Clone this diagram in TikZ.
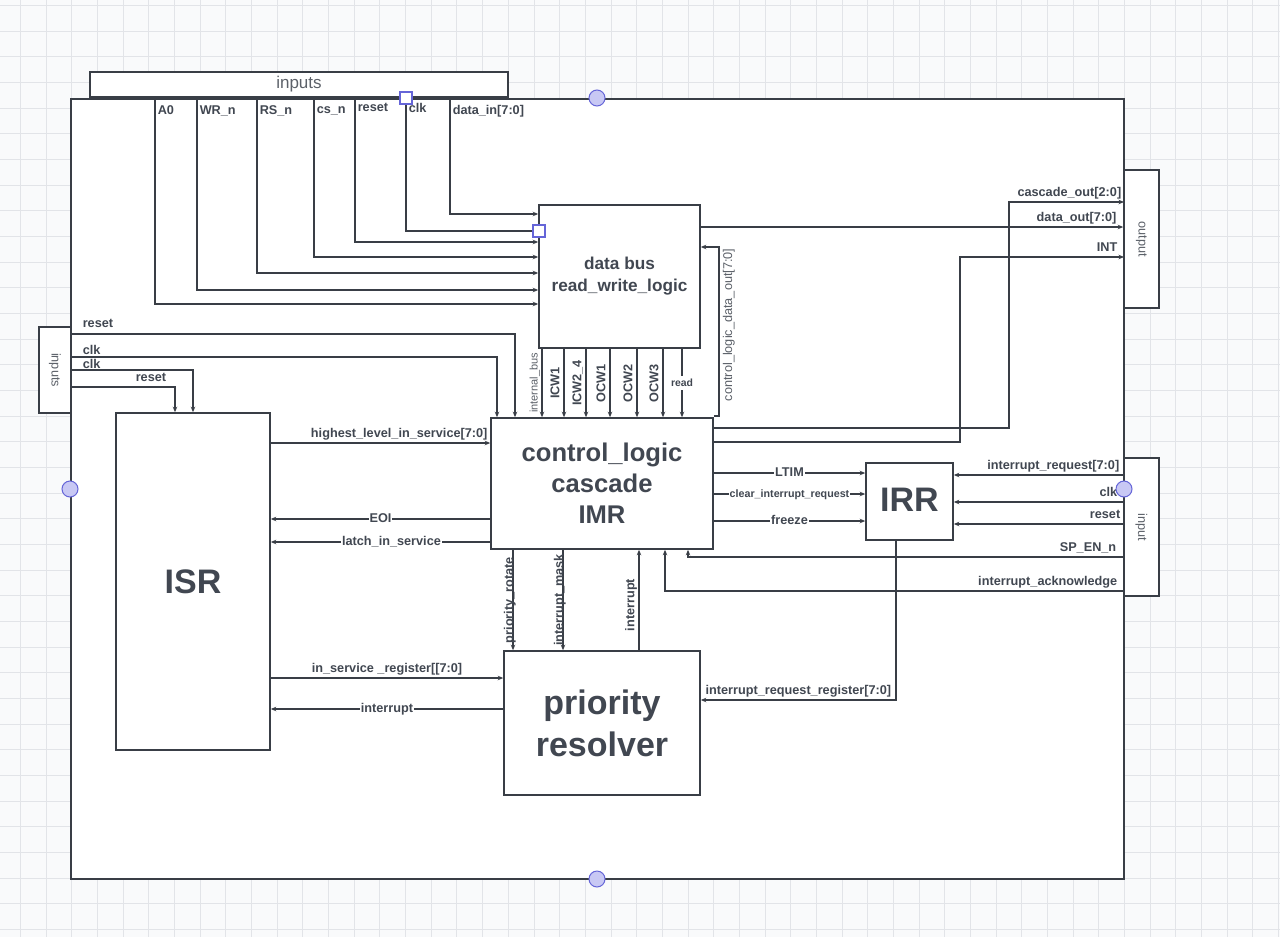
\documentclass[tikz,border=0pt]{standalone}
\usepackage{fontspec}
\setmainfont{Liberation Sans}
\usetikzlibrary{arrows.meta,positioning,calc}

\definecolor{ink}{HTML}{393E46}
\definecolor{txt}{HTML}{414751}
\definecolor{soft}{HTML}{5C6169}
\definecolor{gridc}{HTML}{E2E4E8}
\definecolor{paper}{HTML}{F9FAFB}
\definecolor{pinfill}{HTML}{C8C8F4}
\definecolor{pinline}{HTML}{6565D8}

\begin{document}
\begin{tikzpicture}[x=1pt,y=-1pt,>={Stealth[length=5.5pt,width=4.5pt]},
  block/.style={draw=ink,line width=1.6pt,fill=white,text=txt,align=center,inner sep=0pt},
  side box/.style={draw=ink,line width=1.6pt,fill=white,text=soft,inner sep=0pt,font=\fontsize{12.7}{15}\selectfont},
  wire/.style={draw=ink,line width=1.5pt,->},
  plain wire/.style={draw=ink,line width=1.5pt},
  sig/.style={text=txt,font=\fontsize{12.7}{15}\selectfont\bfseries,inner sep=2pt,text height=9.2pt,text depth=2.8pt},
  on wire/.style={sig,fill=white,inner sep=1pt},
  dot pin/.style={circle,draw=pinline,fill=pinfill,line width=1pt,minimum size=16pt,inner sep=0pt},
  square pin/.style={draw=pinline,fill=white,line width=1.2pt,minimum size=12pt,inner sep=0pt}]

% sheet with grid
\useasboundingbox (0,0) rectangle (1280,937);
\fill[paper] (0,0) rectangle (1280,937);
\foreach \i in {0,...,49} \draw[gridc,line width=0.8pt] (20.5+25.67*\i,0) -- (20.5+25.67*\i,937);
\foreach \j in {0,...,36} \draw[gridc,line width=0.8pt] (0,5.3+25.67*\j) -- (1280,5.3+25.67*\j);

% frame and port boxes
\node[block, minimum width=1053pt, minimum height=780pt] (chip) at (597.5,489) {};
\node[side box, minimum width=418pt, minimum height=25pt, font=\fontsize{17}{20}\selectfont] (topin) at (299,84.5) {inputs};
\node[side box, rotate=-90, minimum width=86pt, minimum height=32pt] (leftin) at (55,370) {inputs};
\node[side box, rotate=-90, minimum width=138pt, minimum height=35pt] (outbox) at (1141.5,239) {output};
\node[side box, rotate=-90, minimum width=138pt, minimum height=35pt] (inbox) at (1141.5,527) {input};

% blocks
\node[block, minimum width=161pt, minimum height=143pt, font=\fontsize{17.2}{22}\selectfont\bfseries] (rwl) at (619.5,276.5) {data bus\\read\_write\_logic};
\node[block, minimum width=222pt, minimum height=131pt, font=\fontsize{25.6}{31}\selectfont\bfseries] (ctrl) at (602,483.5) {control\_logic\\cascade\\IMR};
\node[block, minimum width=154pt, minimum height=337pt, font=\fontsize{34}{40}\selectfont\bfseries] (isr) at (193,581.5) {ISR};
\node[block, minimum width=87pt, minimum height=77pt, font=\fontsize{34}{40}\selectfont\bfseries] (irr) at (909.5,501.5) {\raisebox{4pt}{IRR}};
\node[block, minimum width=196pt, minimum height=144pt, font=\fontsize{34}{42}\selectfont\bfseries] (pres) at (602,723) {priority\\resolver};

% top inputs
\coordinate (inA0) at (155,99);
\coordinate (inWR) at (197,99);
\coordinate (inRS) at (257,99);
\coordinate (inCS) at (314,99);
\coordinate (inRST) at (355,99);
\coordinate (inDIN) at (450,99);
\node[square pin] (clktop) at (406,98) {};
\node[square pin] (clkpin) at (539,231) {};

\draw[wire] (inA0) node[sig,anchor=base west,yshift=-15] {A0} |- ([yshift=-27.5]rwl.west);
\draw[wire] (inWR) node[sig,anchor=base west,yshift=-15] {WR\_n} |- ([yshift=-13.5]rwl.west);
\draw[wire] (inRS) node[sig,anchor=base west,yshift=-15] {RS\_n} |- ([yshift=3.5]rwl.west);
\draw[wire] (inCS) node[sig,anchor=base west,yshift=-14] {cs\_n} |- ([yshift=19.5]rwl.west);
\draw[wire] (inRST) node[sig,anchor=base west,yshift=-12] {reset} |- ([yshift=34.5]rwl.west);
\draw[plain wire] (clktop.south) node[sig,anchor=base west,yshift=-8] {clk} |- (clkpin.west);
\draw[wire] (inDIN) node[sig,anchor=base west,yshift=-15] {data\_in[7:0]} |- ([yshift=62.5]rwl.west);
\node[square pin] (clkpin2) at (clkpin) {};

% left inputs
\coordinate (lrst) at (71,334);
\coordinate (lclk) at (71,357);
\coordinate (lclk2) at (71,370);
\coordinate (lrst2) at (71,387);
\draw[wire] (lrst) node[sig,anchor=base west,xshift=9,yshift=7] {reset} -| ([xshift=-87]ctrl.north);
\draw[wire] (lclk) node[sig,anchor=base west,xshift=9,yshift=3] {clk} -| ([xshift=-105]ctrl.north);
\draw[wire] (lclk2) node[sig,anchor=base west,xshift=9,yshift=2] {clk} -| (isr.north);
\draw[wire] (lrst2) node[sig,anchor=base west,xshift=62,yshift=6] {reset} -| ([xshift=-18]isr.north);

% data bus to control logic
\path ([xshift=-77.5]rwl.south) coordinate (bIB)
      ([xshift=-55.5]rwl.south) coordinate (bI1)
      ([xshift=-33.5]rwl.south) coordinate (bI2)
      ([xshift=-9.5]rwl.south) coordinate (bO1)
      ([xshift=17.5]rwl.south) coordinate (bO2)
      ([xshift=43.5]rwl.south) coordinate (bO3)
      ([xshift=62.5]rwl.south) coordinate (bRD);
\draw[wire] (bIB) -- (bIB |- ctrl.north) node[midway,rotate=90,anchor=south,inner sep=1.5pt,text=soft,font=\fontsize{11}{13}\selectfont] {internal\_bus};
\draw[wire] (bI1) -- (bI1 |- ctrl.north) node[sig,midway,rotate=90,anchor=south,inner sep=1pt] {ICW1};
\draw[wire] (bI2) -- (bI2 |- ctrl.north) node[sig,midway,rotate=90,anchor=south,inner sep=1pt] {ICW2\_4};
\draw[wire] (bO1) -- (bO1 |- ctrl.north) node[sig,midway,rotate=90,anchor=south,inner sep=1pt] {OCW1};
\draw[wire] (bO2) -- (bO2 |- ctrl.north) node[sig,midway,rotate=90,anchor=south,inner sep=1pt] {OCW2};
\draw[wire] (bO3) -- (bO3 |- ctrl.north) node[sig,midway,rotate=90,anchor=south,inner sep=1pt] {OCW3};
\draw[wire] (bRD) -- (bRD |- ctrl.north) node[on wire,midway,font=\fontsize{10.4}{12}\selectfont\bfseries] {read};
\draw[wire] ([yshift=1]ctrl.north east) -- ++(5,0) |- ([yshift=29.5]rwl.east)
  node[pos=0.27,rotate=90,anchor=north,text=soft,font=\fontsize{12.7}{15}\selectfont] {control\_logic\_data\_out[7:0]};

% outputs
\coordinate (dout) at ([yshift=49.5]rwl.east);
\coordinate (ocasc) at (1124,202);
\coordinate (oint) at (1124,257);
\draw[wire] (dout) -- (dout -| outbox.south) node[sig,above left,xshift=-4] {data\_out[7:0]};
\draw[wire] ([yshift=-11]ctrl.north east) -- ++(295,0) |- (ocasc) node[sig,above left] {cascade\_out[2:0]};
\draw[wire] ([yshift=-25]ctrl.north east) -- ++(246,0) |- (oint) node[sig,above left,xshift=-4] {INT};

% ISR and control logic
\coordinate (hl) at ([yshift=40.5]ctrl.west);
\coordinate (eoi) at ([yshift=-35.5]ctrl.west);
\coordinate (lat) at ([yshift=-58.5]ctrl.west);
\draw[wire] (hl -| isr.east) -- (hl) node[sig,above left] {highest\_level\_in\_service[7:0]};
\draw[wire] (eoi) -- (eoi -| isr.east) node[on wire,midway] {EOI};
\draw[wire] (lat) -- (lat -| isr.east) node[on wire,pos=0.45] {latch\_in\_service};

% ISR and priority resolver
\coordinate (isrg) at ([yshift=45]pres.west);
\coordinate (pint) at ([yshift=14]pres.west);
\draw[wire] (isrg -| isr.east) -- (isrg) node[sig,midway,above] {in\_service \_register[[7:0]};
\draw[wire] (pint) -- (pint -| isr.east) node[on wire,midway] {interrupt};

% control logic and IRR
\coordinate (ltim) at ([yshift=10.5]ctrl.east);
\coordinate (clr) at ([yshift=-10.5]ctrl.east);
\coordinate (frz) at ([yshift=-37.5]ctrl.east);
\draw[wire] (ltim) -- (ltim -| irr.west) node[on wire,midway] {LTIM};
\draw[wire] (clr) -- (clr -| irr.west) node[on wire,midway,font=\fontsize{10.7}{12}\selectfont\bfseries] {clear\_interrupt\_request};
\draw[wire] (frz) -- (frz -| irr.west) node[on wire,midway] {freeze};

% IRR to priority resolver
\draw[wire] ([xshift=-13.5]irr.south) |- ([yshift=23]pres.east) node[sig,pos=0.75,above] {interrupt\_request\_register[7:0]};

% control logic and priority resolver
\coordinate (prot) at ([xshift=-89]ctrl.south);
\coordinate (pmsk) at ([xshift=-39]ctrl.south);
\coordinate (pup) at ([xshift=37]ctrl.south);
\draw[wire] (prot) -- (prot |- pres.north) node[sig,midway,rotate=90,anchor=base] {priority\_rotate};
\draw[wire] (pmsk) -- (pmsk |- pres.north) node[sig,midway,rotate=90,anchor=base] {interrupt\_mask};
\draw[wire] (pup |- pres.north) -- (pup) node[sig,pos=0.45,rotate=90,anchor=south,inner sep=1pt] {interrupt};

% right inputs
\coordinate (irq) at (1124,475);
\coordinate (iclk) at (1124,502);
\coordinate (irst) at (1124,524);
\coordinate (spen) at (1124,557);
\coordinate (iack) at (1124,591);
\draw[wire] (irq) node[sig,above left,xshift=-2] {interrupt\_request[7:0]} -- (irq -| irr.east);
\draw[wire] (iclk) node[sig,above left,xshift=-4] {clk} -- (iclk -| irr.east);
\draw[wire] (irst) node[sig,above left,xshift=-1] {reset} -- (irst -| irr.east);
\draw[wire] (spen) node[sig,above left,xshift=-5] {SP\_EN\_n} -| ([xshift=86]ctrl.south);
\draw[wire] (iack) node[sig,above left,xshift=-4] {interrupt\_acknowledge} -| ([xshift=63]ctrl.south);

% connection points
\node[dot pin] (ptop) at (597,98) {};
\node[dot pin] (pleft) at (70,489) {};
\node[dot pin] (pbottom) at (597,879) {};
\node[dot pin] (pright) at (1124,489) {};
\node[square pin] (clktop2) at (clktop) {};
\end{tikzpicture}
\end{document}
